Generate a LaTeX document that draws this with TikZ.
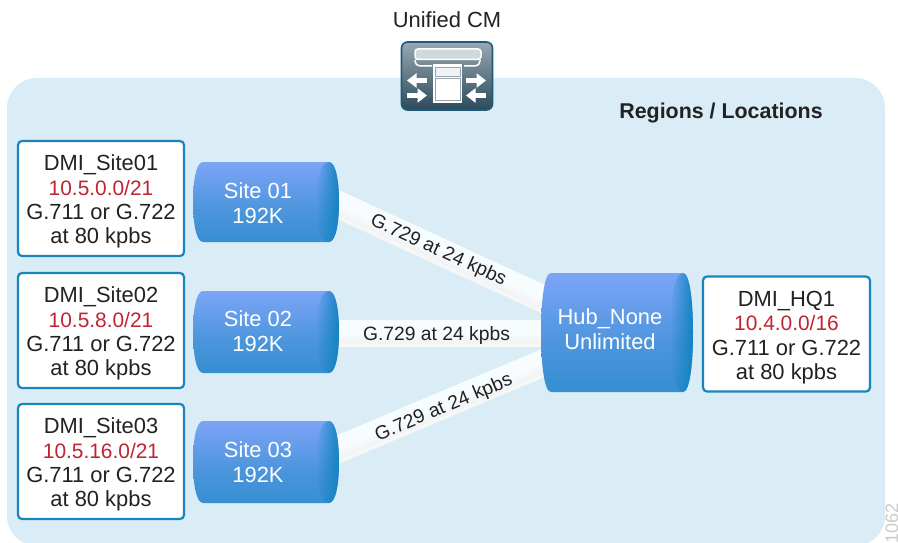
\documentclass[tikz,border=0pt]{standalone}
\usepackage{fontspec}
\setmainfont{Liberation Sans}
\usetikzlibrary{calc,fadings,arrows.meta}
\definecolor{panelblue}{HTML}{DAECF6}
\definecolor{boxblue}{HTML}{1A85BD}
\definecolor{addrred}{HTML}{BE2532}
\definecolor{inktext}{HTML}{222222}
\definecolor{cyltop}{HTML}{5A9EDC}
\definecolor{cylhi}{HTML}{8CA9FF}
\definecolor{cylmid}{HTML}{4C95DC}
\definecolor{cyllow}{HTML}{1A86C4}
\definecolor{capblue}{HTML}{1383C2}
\definecolor{iconhi}{HTML}{98A8B2}
\definecolor{iconlow}{HTML}{2C4A5B}
\definecolor{iconedge}{HTML}{1D5C7C}
\pgfdeclarelayer{panellayer}
\pgfdeclarelayer{bandlayer}
\pgfdeclarelayer{cyllayer}
\pgfsetlayers{panellayer,bandlayer,cyllayer,main}
\pgfdeclareverticalshading{cylbody}{100bp}{
  color(0bp)=(cyllow);
  color(45bp)=(cylmid);
  color(84bp)=(cylhi);
  color(94bp)=(cyltop);
  color(100bp)=(cyltop)}
\tikzfading[name=capfade,left color=transparent!100,middle color=transparent!15,right color=transparent!0]
\newcommand{\liftbox}[1]{\rule{0pt}{#1pt}}
\newcommand{\addrline}[1]{\textcolor{addrred}{\fontsize{20.9}{24.4}\selectfont #1}}
\tikzset{
  netbox/.style={draw=boxblue,fill=white,line width=2.2pt,rounded corners=4pt,
    minimum width=166pt,minimum height=115pt,inner sep=0pt,align=center,text=inktext,
    font=\fontsize{21.9}{24.4}\selectfont},
  cyllabel/.style={inner sep=0pt,align=center,text=white,minimum height=60pt,
    font=\fontsize{21.9}{25}\selectfont},
  linklabel/.style={text=inktext,inner sep=0pt,font=\fontsize{19.3}{22}\selectfont},
  iconline/.style={draw=white,line width=1.5pt},
  iconarrow/.style={draw=white,line width=4.4pt,-{Triangle[length=9.5pt,width=14pt]}},
}
% name, x1, y1, x2, y2, text cx, text cy, text
\newcommand{\cylinderblock}[8]{%
  \node[cyllabel,minimum width={2*(#6-#2)}] (#1) at (#6,#7) {#8};
  \begin{pgfonlayer}{cyllayer}
    \path[shading=cylbody]
      (#2+10,#3) -- (#4-10,#3)
      .. controls (#4-3,#3) and (#4,{#3+(#5-#3)*0.25}) .. (#4,{(#3+#5)/2})
      .. controls (#4,{#3+(#5-#3)*0.75}) and (#4-3,#5) .. (#4-10,#5)
      -- (#2+10,#5)
      .. controls (#2+3,#5) and (#2,{#3+(#5-#3)*0.75}) .. (#2,{(#3+#5)/2})
      .. controls (#2,{#3+(#5-#3)*0.25}) and (#2+3,#3) .. (#2+10,#3) -- cycle;
    \path[fill=capblue,path fading=capfade]
      (#4-10,#3)
      .. controls (#4-3,#3) and (#4,{#3+(#5-#3)*0.25}) .. (#4,{(#3+#5)/2})
      .. controls (#4,{#3+(#5-#3)*0.75}) and (#4-3,#5) .. (#4-10,#5)
      .. controls (#4-19,#5) and (#4-23,{#3+(#5-#3)*0.75}) .. (#4-23,{(#3+#5)/2})
      .. controls (#4-23,{#3+(#5-#3)*0.25}) and (#4-19,#3) .. (#4-10,#3) -- cycle;
  \end{pgfonlayer}
}
% striped band between two named coordinates
\newcommand{\linkband}[2]{%
  \begin{pgfonlayer}{bandlayer}
    \foreach \off/\tone in {12/F7FCFF,10/F7FCFF,8/F7FCFF,6/F7FCFF,4/F7FCFF,2/F7FCFF,0/F7FCFF,
        -2/F7FBFD,-4/F6F9FB,-6/F5F7F8,-8/F3F4F5,-10/F3F4F4,-12/F6F7F7}{
      \definecolor{stripe}{HTML}{\tone}
      \draw[stripe,line width=3pt,line cap=butt]
        ($(#1)!\off pt!90:(#2)$) -- ($(#2)!\off pt!-90:(#1)$);
    }
  \end{pgfonlayer}
}
\begin{document}
\begin{tikzpicture}[x=1pt,y=-1pt]
\useasboundingbox (0,0) rectangle (898,543);
\begin{pgfonlayer}{panellayer}
  \fill[white] (0,0) rectangle (898,543);
  \fill[panelblue,rounded corners=30pt] (7,78) rectangle (885,546);
  \fill[white] (0,543) rectangle (898,550);
\end{pgfonlayer}

\node[text=inktext,inner sep=0pt,font=\fontsize{21.9}{24}\selectfont] (ucmlabel) at (447,20) {Unified CM};
\node[text=inktext,inner sep=0pt,font=\bfseries\fontsize{21.4}{24}\selectfont] (title) at (721,113) {Regions / Locations};

% Unified CM icon
\node[draw=iconedge,line width=1.6pt,rounded corners=6pt,top color=iconhi,bottom color=iconlow,
  minimum width=91pt,minimum height=68pt,inner sep=0pt] (ucm) at (447,76) {};
\draw[iconline,fill=iconhi!45!white,rounded corners=3pt] (415,49) rectangle (481,59.5);
\draw[iconline,rounded corners=2pt] (415,60) -- (415,63) -- (418,66) -- (432,66);
\draw[iconline,rounded corners=2pt] (480,60) -- (480,63) -- (477,66) -- (464,66);
\draw[white,fill=white,line width=1.5pt] (433.5,65) rectangle (461.5,102);
\draw[draw=iconlow!50!white,fill=iconhi!15!white,line width=.7pt] (435,67) rectangle (460,76.5);
\draw[draw=iconlow!50!white,fill=white,line width=.7pt] (435,78.5) rectangle (460,100.5);
\draw[iconarrow] (427,80.5) -- (407,80.5);
\draw[iconarrow] (466,80.5) -- (486,80.5);
\draw[iconarrow] (407,95.5) -- (427,95.5);
\draw[iconarrow] (486,95.5) -- (466,95.5);

% address boxes
\node[netbox] (b1) at (101,198.5) {\liftbox{22}DMI\_Site01\\\addrline{10.5.0.0/21}\\G.711 or G.722\\at 80 kpbs};
\node[netbox] (b2) at (101,330.5) {\liftbox{22}DMI\_Site02\\\addrline{10.5.8.0/21}\\G.711 or G.722\\at 80 kpbs};
\node[netbox] (b3) at (101,461.5) {\liftbox{22}DMI\_Site03\\\addrline{10.5.16.0/21}\\G.711 or G.722\\at 80 kpbs};
\node[netbox,minimum width=167pt] (hq) at (786.5,334) {\liftbox{22.5}DMI\_HQ1\\\addrline{10.4.0.0/16}\\G.711 or G.722\\at 80 kpbs};

% cylinders
\cylinderblock{s1}{193}{162}{339}{242}{258}{203}{Site 01\\192K}
\cylinderblock{s2}{193}{291}{339}{373}{258}{331.5}{Site 02\\192K}
\cylinderblock{s3}{193}{421}{339}{503}{258}{462}{Site 03\\192K}
\cylinderblock{hub}{541}{273}{693}{392}{610}{329.5}{Hub\_None\\Unlimited}

% connectors
\coordinate (a1) at ($(s1.east)+(1,-4.8)$);
\coordinate (z1) at ($(hub.west)+(15,-24.6)$);
\coordinate (a2) at ($(s2.east)+(1,2)$);
\coordinate (z2) at ($(hub.west)+(15,4)$);
\coordinate (a3) at ($(s3.east)+(1,-6.7)$);
\coordinate (z3) at ($(hub.west)+(15,28.2)$);
\linkband{a1}{z1}
\linkband{a2}{z2}
\linkband{a3}{z3}
\path (a1) -- (z1) node[linklabel,midway,sloped,xshift=-2pt] (l1) {G.729 at 24 kpbs};
\path (a2) -- (z2) node[linklabel,midway,sloped,xshift=-3.5pt,yshift=-2pt] (l2) {G.729 at 24 kpbs};
\path (a3) -- (z3) node[linklabel,midway,sloped,xshift=3pt,yshift=-3pt] (l3) {G.729 at 24 kpbs};

\node[text=black!20,inner sep=0pt,rotate=90,anchor=east,font=\fontsize{18}{20}\selectfont] (docid) at (892,503) {1062};
\end{tikzpicture}
\end{document}
